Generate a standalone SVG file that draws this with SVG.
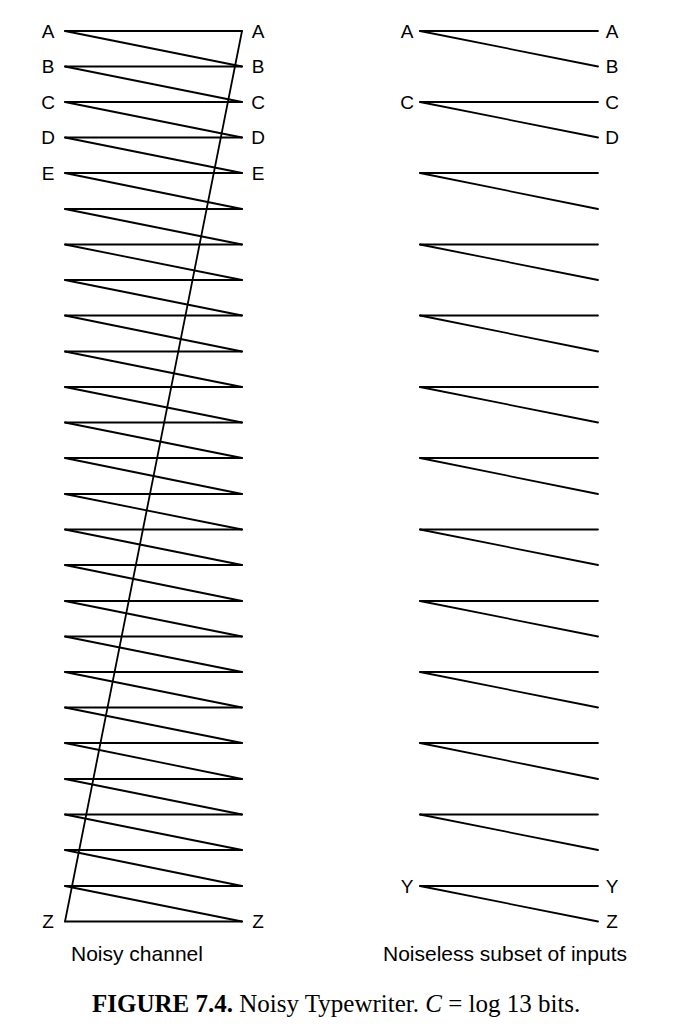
<svg xmlns="http://www.w3.org/2000/svg" width="677" height="1034" viewBox="0 0 677 1034">
<style>
.l{stroke:#000;stroke-width:1.8;fill:none;stroke-linecap:round}
.t{font-family:"Liberation Sans",Arial,sans-serif;font-size:19px;fill:#000;text-anchor:middle}
.c{font-family:"Liberation Sans",Arial,sans-serif;font-size:21px;fill:#000}
.f{font-family:"Liberation Serif","Times New Roman",serif;font-size:25px;fill:#000}
</style>
<rect width="677" height="1034" fill="#fff"/>
<g id="connectors">
<g id="noisy-lines" class="l">
<path d="M65,31H242M65,66.5H242M65,102H242M65,137.5H242M65,173H242M65,209H242M65,244.5H242M65,280H242M65,315.5H242M65,351.5H242M65,387H242M65,422.5H242M65,458H242M65,494H242M65,529.5H242M65,565H242M65,601H242M65,636.5H242M65,672H242M65,707.5H242M65,743H242M65,779H242M65,814.5H242M65,850H242M65,886H242M65,921.5H242"/>
<path d="M65,31L242,66.5M65,66.5L242,102M65,102L242,137.5M65,137.5L242,173M65,173L242,209M65,209L242,244.5M65,244.5L242,280M65,280L242,315.5M65,315.5L242,351.5M65,351.5L242,387M65,387L242,422.5M65,422.5L242,458M65,458L242,494M65,494L242,529.5M65,529.5L242,565M65,565L242,601M65,601L242,636.5M65,636.5L242,672M65,672L242,707.5M65,707.5L242,743M65,743L242,779M65,779L242,814.5M65,814.5L242,850M65,850L242,886M65,886L242,921.5"/>
<path d="M65,921.5L242,31"/>
</g>
<g id="noiseless-lines" class="l">
<path d="M420,31H598M420,102H598M420,173H598M420,244.5H598M420,315.5H598M420,387H598M420,458H598M420,529.5H598M420,601H598M420,672H598M420,743H598M420,814.5H598M420,886H598"/>
<path d="M420,31L598,66.5M420,102L598,137.5M420,173L598,209M420,244.5L598,280M420,315.5L598,351.5M420,387L598,422.5M420,458L598,494M420,529.5L598,565M420,601L598,636.5M420,672L598,707.5M420,743L598,779M420,814.5L598,850M420,886L598,921.5"/>
</g>
</g>
<g id="noisy-inputs" class="t">
<text x="48" y="37.8">A</text>
<text x="48" y="73.3">B</text>
<text x="48" y="108.8">C</text>
<text x="48" y="144.3">D</text>
<text x="48" y="179.8">E</text>
<text x="48" y="928.3">Z</text>
</g>
<g id="noisy-outputs" class="t">
<text x="258" y="37.8">A</text>
<text x="258" y="73.3">B</text>
<text x="258" y="108.8">C</text>
<text x="258" y="144.3">D</text>
<text x="258" y="179.8">E</text>
<text x="258" y="928.3">Z</text>
</g>
<g id="noiseless-inputs" class="t">
<text x="407" y="37.8">A</text>
<text x="407" y="108.8">C</text>
<text x="407" y="892.8">Y</text>
</g>
<g id="noiseless-outputs" class="t">
<text x="612" y="37.8">A</text>
<text x="612" y="73.3">B</text>
<text x="612" y="108.8">C</text>
<text x="612" y="144.3">D</text>
<text x="612" y="892.8">Y</text>
<text x="612" y="928.3">Z</text>
</g>
<g id="captions">
<text class="c" x="71" y="961">Noisy channel</text>
<text class="c" x="383" y="961">Noiseless subset of inputs</text>
<text class="f" x="92" y="1012"><tspan font-weight="bold">FIGURE 7.4.</tspan>  Noisy Typewriter. <tspan font-style="italic">C</tspan> = log 13 bits.</text>
</g>
</svg>
